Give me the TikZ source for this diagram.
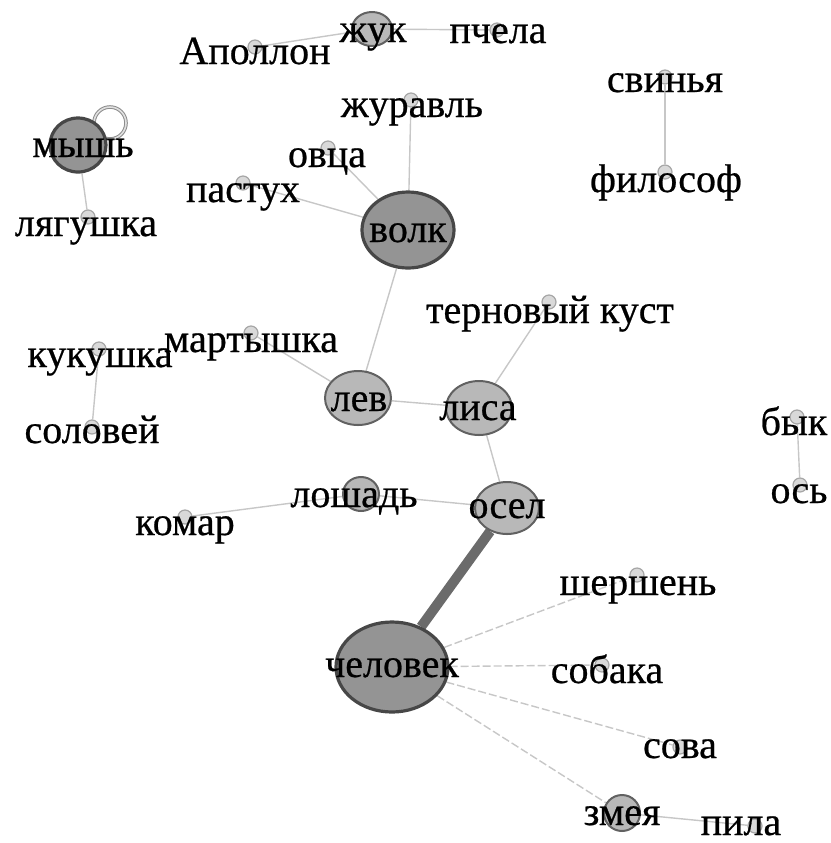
\documentclass[tikz,border=0pt]{standalone}
\usepackage{fontspec}
\setmainfont{Liberation Serif}[FakeBold=0.6]
\usetikzlibrary{shapes.geometric,backgrounds}
\begin{document}
\begin{tikzpicture}[x=0.5pt,y=-0.5pt,
    big/.style={ellipse,draw=black!72,line width=1.6pt,fill=black!42,inner sep=0pt},
    mid/.style={ellipse,draw=black!62,line width=1pt,fill=black!28,inner sep=0pt},
    dot/.style={circle,draw=black!35,fill=black!15,line width=0.6pt,inner sep=0pt,minimum size=7pt},
    lbl/.style={font=\fontsize{20}{24}\selectfont,inner sep=0pt,anchor=base},
    tie/.style={draw=black!22,line width=0.7pt},
    hatch/.style={tie,dash pattern=on 4pt off 1.5pt},
    heavy/.style={draw=black!58,line width=5pt},
    loopln/.style={draw=black!45,double=black!12,double distance=0.8pt,line width=0.5pt}]
  \useasboundingbox (0,0) rectangle (831,843);
  % large nodes
  \node[big,minimum width=46pt,minimum height=38pt] (volk) at (408,230) {};
  \node[big,minimum width=28pt,minimum height=27pt] (mysh) at (78,145) {};
  \node[big,minimum width=56pt,minimum height=45pt] (chel) at (392,667) {};
  % medium nodes
  \node[mid,minimum width=20pt,minimum height=17pt] (zhuk) at (372,29) {};
  \node[mid,minimum width=33pt,minimum height=27pt] (lev)  at (358,398) {};
  \node[mid,minimum width=33pt,minimum height=27pt] (lisa) at (479,408) {};
  \node[mid,minimum width=32pt,minimum height=26pt] (osel) at (507,508) {};
  \node[mid,minimum width=18pt,minimum height=17pt] (losh) at (361,494) {};
  \node[mid,minimum width=18pt,minimum height=18pt] (zmeya) at (622,813) {};
  % small nodes
  \node[dot] (apol)  at (255,47)  {};
  \node[dot] (pchela) at (497,30) {};
  \node[dot] (zhur)  at (411,100) {};
  \node[dot] (ovca)  at (328,148) {};
  \node[dot] (past)  at (243,183) {};
  \node[dot] (lyag)  at (88,217)  {};
  \node[dot] (svin)  at (665,77)  {};
  \node[dot] (filos) at (665,172) {};
  \node[dot] (tern)  at (549,302) {};
  \node[dot] (mart)  at (251,333) {};
  \node[dot] (kuk)   at (99,349)  {};
  \node[dot] (solov) at (92,427)  {};
  \node[dot] (byk)   at (797,417) {};
  \node[dot] (os)    at (800,485) {};
  \node[dot] (komar) at (185,517) {};
  \node[dot] (shersh) at (637,575) {};
  \node[dot] (sobaka) at (602,665) {};
  \node[dot] (sova)  at (680,747) {};
  \node[dot] (pila)  at (755,826) {};
  % connectors, behind the nodes
  \begin{scope}[on background layer]
    \draw[tie] (zhuk) -- (apol);
    \draw[tie] (zhuk) -- (pchela);
    \draw[tie] (mysh) -- (lyag);
    \draw[loopln] (mysh) ++(32,-22) circle[radius=8pt];
    \draw[tie] (volk) -- (zhur);
    \draw[tie] (volk) -- (ovca);
    \draw[tie] (volk) -- (past);
    \draw[tie] (volk) -- (lev);
    \draw[tie] (svin) -- (filos);
    \draw[tie] (lisa) -- (tern);
    \draw[tie] (lisa) -- (lev);
    \draw[tie] (lisa) -- (osel);
    \draw[tie] (lev) -- (mart);
    \draw[tie] (kuk) -- (solov);
    \draw[tie] (byk) -- (os);
    \draw[tie] (osel) -- (losh);
    \draw[tie] (losh) -- (komar);
    \draw[heavy] (osel) -- (chel);
    \draw[hatch] (chel) -- (shersh);
    \draw[hatch] (chel) -- (sobaka);
    \draw[hatch] (chel) -- (sova);
    \draw[hatch] (chel) -- (zmeya);
    \draw[tie] (zmeya) -- (pila);
  \end{scope}
  % labels
  \node[lbl] (t-zhuk)  at (373,42)  {жук};
  \node[lbl] (t-apol)  at (255,64)  {Аполлон};
  \node[lbl] (t-pchela) at (498,43) {пчела};
  \node[lbl] (t-zhur)  at (412,117) {журавль};
  \node[lbl] (t-ovca)  at (327,167) {овца};
  \node[lbl] (t-past)  at (243,202) {пастух};
  \node[lbl] (t-volk)  at (408,242) {волк};
  \node[lbl] (t-mysh)  at (83,157)  {мышь};
  \node[lbl] (t-lyag)  at (86,236)  {лягушка};
  \node[lbl] (t-svin)  at (665,92)  {свинья};
  \node[lbl] (t-filos) at (666,192) {философ};
  \node[lbl] (t-tern)  at (550,323) {терновый куст};
  \node[lbl] (t-mart)  at (251,352) {мартышка};
  \node[lbl] (t-kuk)   at (100,367) {кукушка};
  \node[lbl] (t-solov) at (92,443)  {соловей};
  \node[lbl] (t-lev)   at (359,411) {лев};
  \node[lbl] (t-lisa)  at (478,420) {лиса};
  \node[lbl] (t-byk)   at (794,435) {бык};
  \node[lbl] (t-os)    at (799,503) {ось};
  \node[lbl] (t-losh)  at (354,507) {лошадь};
  \node[lbl] (t-osel)  at (507,518) {осел};
  \node[lbl] (t-komar) at (185,535) {комар};
  \node[lbl] (t-chel)  at (392,677) {человек};
  \node[lbl] (t-shersh) at (638,595) {шершень};
  \node[lbl] (t-sobaka) at (607,683) {собака};
  \node[lbl] (t-sova)  at (680,758) {сова};
  \node[lbl] (t-zmeya) at (622,825) {змея};
  \node[lbl] (t-pila)  at (741,835) {пила};
\end{tikzpicture}
\end{document}
